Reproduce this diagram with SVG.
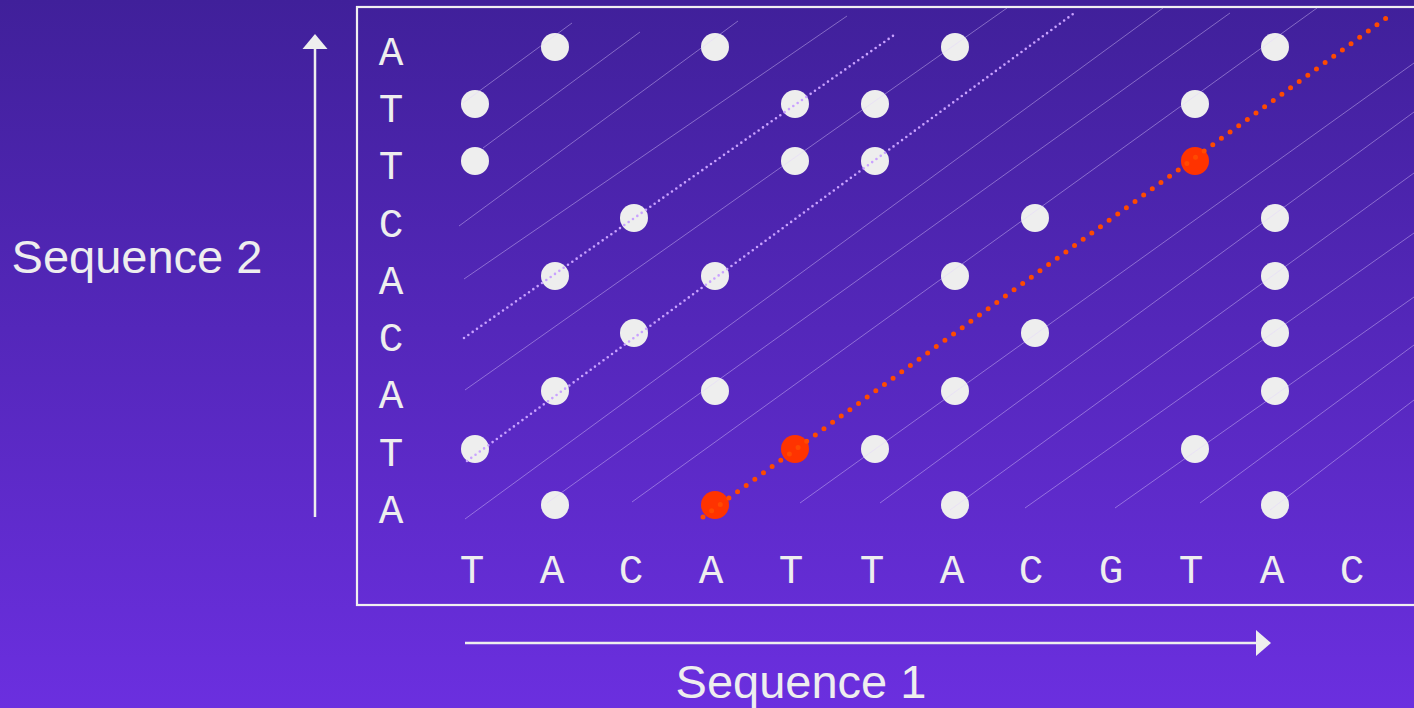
<svg xmlns="http://www.w3.org/2000/svg" width="1414" height="708" viewBox="0 0 1414 708">
<defs>
<linearGradient id="bg" x1="0" y1="0" x2="0" y2="1">
<stop offset="0" stop-color="#40209a"/>
<stop offset="1" stop-color="#6b2fdf"/>
</linearGradient>
<style>
.seq{font-family:"Liberation Mono","DejaVu Sans Mono",monospace;font-size:41px;fill:#eeeeee;text-anchor:middle}
.axis{font-family:"Liberation Sans",Arial,sans-serif;font-size:47px;fill:#eeeeee;text-anchor:middle}
.dot{fill:#eeeeee}
.hit{fill:#ff3300}
.faint{stroke:#e2d2ff;stroke-opacity:0.42;stroke-width:1;fill:none}
.pdot{stroke:#c9a2ff;stroke-width:2.6;stroke-linecap:round;stroke-dasharray:0 5.3;fill:none}
.rdot{stroke:#ff4a00;stroke-width:5;stroke-linecap:round;stroke-dasharray:0 10.7;fill:none}
.ax{stroke:#eeeeee;stroke-width:2.5;fill:none}
</style>
</defs>
<rect x="0" y="0" width="1414" height="708" fill="url(#bg)"/>
<g id="frame"><rect x="357" y="7" width="1100" height="598" fill="none" stroke="#f0f0f0" stroke-width="2.2"/></g>

<g id="seq2-axis">
<line class="ax" x1="315" y1="517" x2="315" y2="46"/>
<polygon points="315,34 302.5,49 327.5,49" fill="#eeeeee"/>
<text class="axis" x="137" y="273">Sequence 2</text>
</g>
<g id="seq1-axis">
<line class="ax" x1="465" y1="643" x2="1258" y2="643"/>
<polygon points="1271,643 1256,630 1256,656" fill="#eeeeee"/>
<text class="axis" x="801" y="698">Sequence 1</text>
</g>

<g id="seq2-letters">
<text class="seq" x="391" y="65">A</text>
<text class="seq" x="391" y="122">T</text>
<text class="seq" x="391" y="179">T</text>
<text class="seq" x="391" y="237">C</text>
<text class="seq" x="391" y="294">A</text>
<text class="seq" x="391" y="351">C</text>
<text class="seq" x="391" y="408">A</text>
<text class="seq" x="391" y="466">T</text>
<text class="seq" x="391" y="523">A</text>
</g>
<g id="seq1-letters">
<text class="seq" x="472" y="583">T</text>
<text class="seq" x="552" y="583">A</text>
<text class="seq" x="631" y="583">C</text>
<text class="seq" x="711" y="583">A</text>
<text class="seq" x="791" y="583">T</text>
<text class="seq" x="872" y="583">T</text>
<text class="seq" x="952" y="583">A</text>
<text class="seq" x="1031" y="583">C</text>
<text class="seq" x="1111" y="583">G</text>
<text class="seq" x="1191" y="583">T</text>
<text class="seq" x="1272" y="583">A</text>
<text class="seq" x="1352" y="583">C</text>
</g>

<g id="matches">
<g id="row0"><circle class="dot" cx="555" cy="47" r="14"/><circle class="dot" cx="715" cy="47" r="14"/><circle class="dot" cx="955" cy="47" r="14"/><circle class="dot" cx="1275" cy="47" r="14"/></g>
<g id="row1"><circle class="dot" cx="475" cy="104" r="14"/><circle class="dot" cx="795" cy="104" r="14"/><circle class="dot" cx="875" cy="104" r="14"/><circle class="dot" cx="1195" cy="104" r="14"/></g>
<g id="row2"><circle class="dot" cx="475" cy="161" r="14"/><circle class="dot" cx="795" cy="161" r="14"/><circle class="dot" cx="875" cy="161" r="14"/><circle class="hit" cx="1195" cy="161" r="14"/></g>
<g id="row3"><circle class="dot" cx="634" cy="218" r="14"/><circle class="dot" cx="1035" cy="218" r="14"/><circle class="dot" cx="1275" cy="218" r="14"/></g>
<g id="row4"><circle class="dot" cx="555" cy="276" r="14"/><circle class="dot" cx="715" cy="276" r="14"/><circle class="dot" cx="955" cy="276" r="14"/><circle class="dot" cx="1275" cy="276" r="14"/></g>
<g id="row5"><circle class="dot" cx="634" cy="333" r="14"/><circle class="dot" cx="1035" cy="333" r="14"/><circle class="dot" cx="1275" cy="333" r="14"/></g>
<g id="row6"><circle class="dot" cx="555" cy="391" r="14"/><circle class="dot" cx="715" cy="391" r="14"/><circle class="dot" cx="955" cy="391" r="14"/><circle class="dot" cx="1275" cy="391" r="14"/></g>
<g id="row7"><circle class="dot" cx="475" cy="449" r="14"/><circle class="hit" cx="795" cy="449" r="14"/><circle class="dot" cx="875" cy="449" r="14"/><circle class="dot" cx="1195" cy="449" r="14"/></g>
<g id="row8"><circle class="dot" cx="555" cy="505" r="14"/><circle class="hit" cx="715" cy="505" r="14"/><circle class="dot" cx="955" cy="505" r="14"/><circle class="dot" cx="1275" cy="505" r="14"/></g>
</g>

<g id="connectors">
<g id="diagonals">
<line class="faint" x1="463" y1="103" x2="572" y2="23"/>
<line class="faint" x1="483" y1="148" x2="640" y2="32"/>
<line class="faint" x1="459" y1="226" x2="738" y2="21"/>
<line class="faint" x1="464" y1="279" x2="847" y2="16"/>
<line class="faint" x1="465" y1="390" x2="1007" y2="8"/>
<line class="faint" x1="465" y1="519" x2="1163" y2="8"/>
<line class="faint" x1="547" y1="503" x2="1230" y2="13"/>
<line class="faint" x1="632" y1="502" x2="1317" y2="8"/>
<line class="faint" x1="800" y1="503" x2="1414" y2="63"/>
<line class="faint" x1="880" y1="503" x2="1414" y2="112"/>
<line class="faint" x1="950" y1="510" x2="1414" y2="173"/>
<line class="faint" x1="1025" y1="508" x2="1414" y2="233"/>
<line class="faint" x1="1115" y1="508" x2="1414" y2="297"/>
<line class="faint" x1="1200" y1="503" x2="1414" y2="345"/>
<line class="faint" x1="1270" y1="510" x2="1414" y2="400"/>
</g>
<line id="diag-5" class="pdot" x1="464" y1="338" x2="897" y2="33"/>
<line id="diag-7" class="pdot" x1="467" y1="461" x2="1073" y2="14"/>
<line id="best-diagonal" class="rdot" x1="703" y1="517" x2="1393" y2="13"/>
</g>
</svg>
